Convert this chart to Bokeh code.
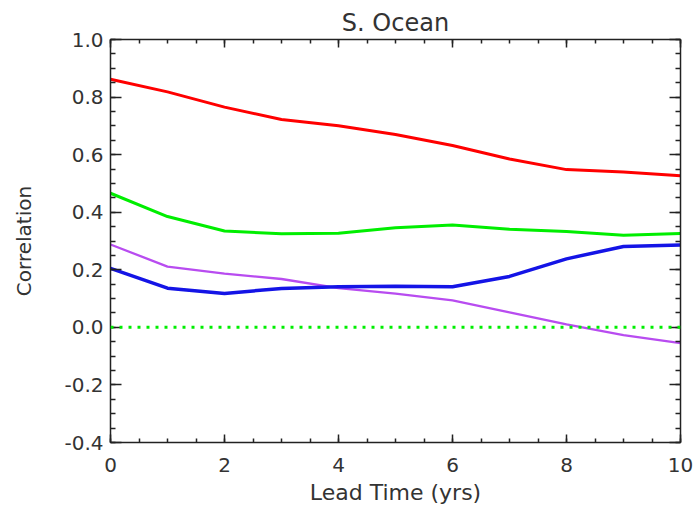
from bokeh.plotting import figure
from bokeh.models import FixedTicker, LinearAxis, PrintfTickFormatter, CustomJSTickFormatter, Range1d, Span
from bokeh.embed import file_html
from bokeh.resources import INLINE

lead = [0, 1, 2, 3, 4, 5, 6, 7, 8, 9, 10]
red = [0.862, 0.818, 0.765, 0.722, 0.700, 0.670, 0.632, 0.585, 0.548, 0.540, 0.527]
green = [0.466, 0.385, 0.335, 0.325, 0.327, 0.346, 0.356, 0.341, 0.333, 0.320, 0.326]
blue = [0.205, 0.136, 0.118, 0.135, 0.141, 0.143, 0.141, 0.177, 0.238, 0.281, 0.286]
purple = [0.288, 0.211, 0.187, 0.168, 0.136, 0.117, 0.094, 0.052, 0.010, -0.027, -0.055]
zero_level = 0.0

x_major = [0, 2, 4, 6, 8, 10]
x_minor = [i * 0.5 for i in range(0, 21)]
y_major = [-0.4, -0.2, 0.0, 0.2, 0.4, 0.6, 0.8, 1.0]
y_minor = [round(-0.4 + i * 0.05, 2) for i in range(0, 29)]

FONT = "DejaVu Sans"
AX = "#222222"
LBL = "#333333"

p = figure(width=693, height=507, output_backend="svg", toolbar_location=None,
           x_range=Range1d(0, 10), y_range=Range1d(-0.4, 1.0),
           x_axis_location=None, y_axis_location=None,
           min_border_left=110, min_border_right=13, min_border_top=39, min_border_bottom=65,
           title="S. Ocean")
p.title.align = "center"
p.title.text_font = FONT
p.title.text_font_size = "24px"
p.title.text_font_style = "normal"
p.title.text_color = LBL
p.title.standoff = 6
p.grid.visible = False
p.outline_line_color = None
p.background_fill_color = "white"
p.border_fill_color = "white"

def style(ax, major_in, minor_in, ticks, minors):
    ax.ticker = FixedTicker(ticks=ticks, minor_ticks=minors)
    ax.major_tick_in = major_in
    ax.major_tick_out = 0
    ax.minor_tick_in = minor_in
    ax.minor_tick_out = 0
    ax.axis_line_color = AX
    ax.axis_line_width = 1.5
    ax.major_tick_line_color = AX
    ax.major_tick_line_width = 1.5
    ax.minor_tick_line_color = AX
    ax.minor_tick_line_width = 1.5
    ax.major_label_text_font = FONT
    ax.major_label_text_font_size = "20px"
    ax.major_label_text_color = LBL
    ax.axis_label_text_font = FONT
    ax.axis_label_text_font_size = "20px"
    ax.axis_label_text_font_style = "normal"
    ax.axis_label_text_color = LBL

bottom = LinearAxis(axis_label="Lead Time (yrs)", formatter=PrintfTickFormatter(format="%d"))
style(bottom, 8, 4, x_major, x_minor)
bottom.axis_label_text_font_size = "22px"
bottom.major_label_standoff = 15
bottom.axis_label_standoff = 5
p.add_layout(bottom, "below")

top = LinearAxis(formatter=CustomJSTickFormatter(code="return ''"))
style(top, 8, 4, x_major, x_minor)
top.major_label_standoff = 0
p.add_layout(top, "above")

left = LinearAxis(axis_label="Correlation", formatter=PrintfTickFormatter(format="%.1f"))
style(left, 11, 5, y_major, y_minor)
left.major_label_standoff = 7
left.axis_label_standoff = 25
p.add_layout(left, "left")

right = LinearAxis(formatter=CustomJSTickFormatter(code="return ''"))
style(right, 11, 5, y_major, y_minor)
right.major_label_standoff = 0
p.add_layout(right, "right")

p.line(lead, red, line_color="#FF0000", line_width=3)
p.line(lead, green, line_color="#00EE00", line_width=3)
p.line(lead, purple, line_color="#B84CF0", line_width=2.3)
p.line(lead, blue, line_color="#1414E6", line_width=3.5)
p.add_layout(Span(location=zero_level, dimension="width", line_color="#00EE00",
                  line_width=3, line_dash="3 6"))

open("out.html", "w").write(file_html(p, INLINE))
